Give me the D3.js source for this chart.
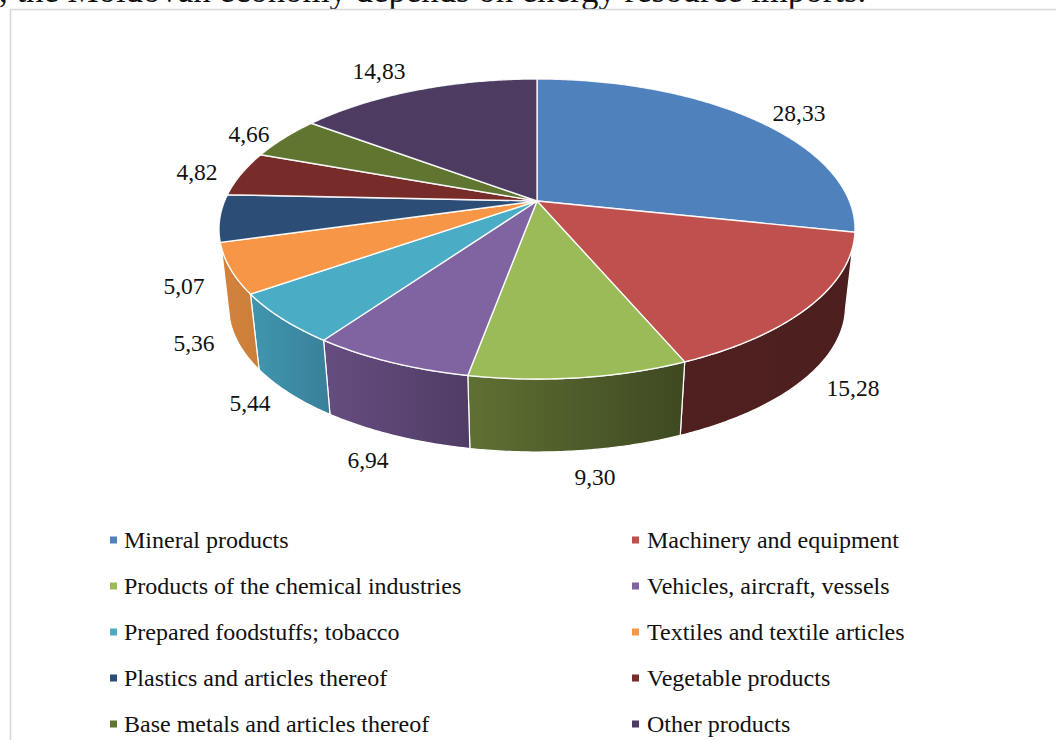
<!DOCTYPE html>
<html>
<head>
<meta charset="utf-8">
<script src="https://cdn.jsdelivr.net/npm/d3@7"></script>
<style>
  html, body { margin: 0; padding: 0; background: #fff; overflow: hidden; }
  text { font-family: "Liberation Serif", serif; fill: #111; }
</style>
</head>
<body>
<div id="chart"></div>
<script>
const width = 1056;
const height = 740;

const categories = [
  "Mineral products", "Machinery and equipment",
  "Products of the chemical industries", "Vehicles, aircraft, vessels",
  "Prepared foodstuffs; tobacco", "Textiles and textile articles",
  "Plastics and articles thereof", "Vegetable products",
  "Base metals and articles thereof", "Other products"
];
const values = [28.33, 15.28, 9.30, 6.94, 5.44, 5.36, 5.07, 4.82, 4.66, 14.83];
const valueLabels = ["28,33", "15,28", "9,30", "6,94", "5,44", "5,36", "5,07", "4,82", "4,66", "14,83"];

const colors = ["#4f81bd", "#c0504d", "#9bbb59", "#8064a2", "#4bacc6", "#f79646", "#2c4d75", "#772c2a", "#5f7530", "#4d3b62"];
// side wall colours, left to right
const sideLeft = ["#4f81bd", "#4f201f", "#5f7033", "#664d80", "#4096ae", "#d3823b"];
const sideRight = ["#4f81bd", "#4c1f1e", "#3e4921", "#503c65", "#39809a", "#cb7f3a"];

// label centres, where the original chart placed them
const labelX = [799, 853, 595, 368, 250, 194, 184, 197, 249, 379];
const labelY = [113, 388, 477, 460, 403, 343, 286, 172, 134, 71];

// perspective pie: apex of the slices and the tilt of the disc
const apex = [537, 201];
const tilt = 0.1867;
const rx = 312.4;
const ry = 144.8;
const wallScale = 0.97;
const wallDrop = 78.3;
const topEdgeV = 0.3;
const bottomEdgeV = 0.187;

const svg = d3.select("#chart").append("svg")
  .attr("width", width)
  .attr("height", height);

function project(a, isBottom) {
  const u = Math.sin(a);
  const v = -Math.cos(a);
  const d = 1 - tilt * v;
  const s = isBottom ? wallScale : 1;
  return [
    apex[0] + s * rx * u / d,
    apex[1] + s * ry * v / d + (isBottom ? wallDrop : 0)
  ];
}

function arcPoints(a0, a1, isBottom) {
  const n = Math.max(2, Math.ceil((a1 - a0) / 0.01));
  return d3.range(n + 1).map((i) => project(a0 + (a1 - a0) * i / n, isBottom));
}

const line = d3.line();
const arcs = d3.pie().sort(null).value((d) => d)(values);

// caption cut off by the top of the picture
svg.append("text")
  .attr("x", -1)
  .attr("y", 2)
  .attr("font-size", 34.8)
  .text(", the Moldovan economy depends on energy resource imports.");

// frame of the chart area
svg.append("path")
  .attr("d", "M1056,9.5H10.5V740")
  .attr("fill", "none")
  .attr("stroke", "#d9d9d9")
  .attr("stroke-width", 1.6);

const defs = svg.append("defs");
sideLeft.forEach((c, i) => {
  const g = defs.append("linearGradient").attr("id", "side" + i);
  g.append("stop").attr("offset", "0%").attr("stop-color", c);
  g.append("stop").attr("offset", "100%").attr("stop-color", sideRight[i]);
});

// visible part of the wall runs between the two silhouette angles
const topFrom = Math.PI - Math.acos(topEdgeV);
const topTo = Math.PI + Math.acos(topEdgeV);
const bottomFrom = Math.PI - Math.acos(bottomEdgeV);
const bottomTo = Math.PI + Math.acos(bottomEdgeV);

svg.append("g").selectAll("path")
  .data(arcs.filter((d) => d.endAngle > topFrom && d.startAngle < topTo))
  .enter()
  .append("path")
  .attr("d", (d) => {
    const top = arcPoints(Math.max(d.startAngle, topFrom), Math.min(d.endAngle, topTo), false);
    const bottom = arcPoints(Math.max(d.startAngle, bottomFrom), Math.min(d.endAngle, bottomTo), true);
    return line(top.concat(bottom.reverse())) + "Z";
  })
  .attr("fill", (d) => "url(#side" + d.index + ")")
  .attr("stroke", "#fff")
  .attr("stroke-width", 1.2);

svg.append("g").selectAll("path")
  .data(arcs)
  .enter()
  .append("path")
  .attr("d", (d) => line([apex].concat(arcPoints(d.startAngle, d.endAngle, false))) + "Z")
  .attr("fill", (d, i) => colors[i])
  .attr("stroke", "#fff")
  .attr("stroke-opacity", 0.9)
  .attr("stroke-width", 1.4)
  .attr("stroke-linejoin", "round");

svg.append("g").selectAll("text")
  .data(valueLabels)
  .enter()
  .append("text")
  .attr("x", (d, i) => labelX[i])
  .attr("y", (d, i) => labelY[i])
  .attr("dy", "0.35em")
  .attr("text-anchor", "middle")
  .attr("font-size", 23.5)
  .text((d) => d);

// legend, two columns
const rowY = d3.scalePoint().domain(d3.range(5)).range([540, 724]);
const colX = [110, 632];

const legend = svg.append("g").selectAll("g")
  .data(categories)
  .enter()
  .append("g")
  .attr("transform", (d, i) => "translate(" + colX[i % 2] + "," + rowY(Math.floor(i / 2)) + ")");

legend.append("rect")
  .attr("x", 0)
  .attr("y", -3.5)
  .attr("width", 7)
  .attr("height", 7)
  .attr("fill", (d, i) => colors[i]);

legend.append("text")
  .attr("x", (d, i) => (i % 2 ? 15 : 14))
  .attr("dy", "0.35em")
  .attr("font-size", 24)
  .text((d) => d);
</script>
</body>
</html>
